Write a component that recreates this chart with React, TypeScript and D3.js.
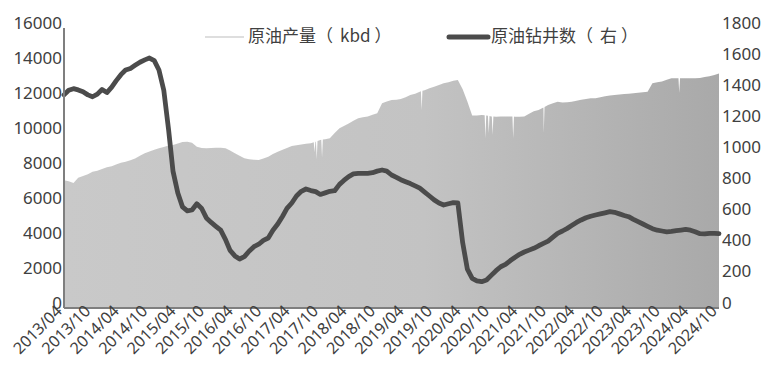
import React from "react";
import * as d3 from "d3";

// Monthly values from 2013/04 to 2024/10
const production: number[] = [
  7300, 7250, 7150, 7450, 7550, 7650, 7790, 7850, 7950, 8050, 8100, 8200,
  8300, 8362, 8450, 8550, 8700, 8838, 8950, 9050, 9124, 9200, 9280, 9314,
  9400, 9480, 9505, 9450, 9220, 9150, 9124, 9150, 9160, 9160, 9124, 9000,
  8850, 8700, 8552, 8500, 8470, 8457, 8550, 8650, 8800, 8933, 9050, 9150,
  9257, 9300, 9350, 9380, 9410, 9500, 9600, 9650, 9695, 10000, 10267, 10400,
  10550, 10700, 10838, 10900, 10950, 11050, 11124, 11695, 11800, 11886, 11900, 11950,
  12050, 12171, 12250, 12362, 12450, 12552, 12650, 12750, 12838, 12900, 12980, 13029,
  12500, 11800, 11000, 11000, 11029, 11000, 10950, 10933, 10950, 10950, 10950, 10933,
  10933, 10950, 11100, 11250, 11314, 11450, 11600, 11695, 11790, 11750, 11760, 11790,
  11850, 11900, 11950, 11981, 11981, 12050, 12100, 12150, 12171, 12200, 12230, 12250,
  12267, 12300, 12330, 12362, 12838, 12900, 12950, 13050, 13124, 13124, 13124, 13124,
  13124, 13124, 13150, 13200, 13250, 13314, 13400,
];

const rigs: number[] = [
  1370, 1400, 1410, 1402, 1390, 1370, 1358, 1375, 1405, 1385, 1420, 1460,
  1500, 1530, 1540, 1560, 1580, 1595, 1607, 1590, 1530, 1400, 1144, 880,
  739, 650, 625, 630, 670, 640, 579, 550, 525, 500, 440, 370,
  335, 315, 330, 365, 394, 410, 435, 450, 500, 540, 590, 640,
  675, 720, 750, 765, 755, 748, 730, 740, 750, 754, 795, 820,
  845, 862, 866, 865, 866, 870, 880, 887, 880, 855, 840, 825,
  812, 800, 785, 770, 745, 720, 695, 675, 662, 670, 677, 675,
  420, 250, 191, 175, 169, 180, 210, 240, 265, 280, 305, 325,
  345, 360, 372, 384, 400, 415, 430, 455, 480, 495, 512, 530,
  550, 566, 580, 590, 598, 605, 612, 619, 615, 605, 595, 587,
  570, 555, 540, 525, 510, 500, 495, 490, 492, 497, 501, 505,
  500, 490, 478, 476, 480, 480, 478,
];

// Short production dips (storms / freezes)
const dipDates: string[] = [
  "2017-08-25", "2017-09-08", "2017-10-12", "2019-07-13",
  "2020-08-25", "2020-09-15", "2020-10-10", "2021-02-19",
  "2021-09-03", "2024-01-20",
];
const dipValues: number[] = [8900, 8500, 8600, 11314, 9700, 10000, 9900, 9700, 10000, 12300];

const tickLabels: string[] = [
  "2013/04", "2013/10", "2014/04", "2014/10", "2015/04", "2015/10",
  "2016/04", "2016/10", "2017/04", "2017/10", "2018/04", "2018/10",
  "2019/04", "2019/10", "2020/04", "2020/10", "2021/04", "2021/10",
  "2022/04", "2022/10", "2023/04", "2023/10", "2024/04", "2024/10",
];
const leftTicks: number[] = [0, 2000, 4000, 6000, 8000, 10000, 12000, 14000, 16000];
const rightTicks: number[] = [0, 200, 400, 600, 800, 1000, 1200, 1400, 1600, 1800];

const legendProdName = "原油产量";
const legendProdUnit = "kbd";
const legendRigsName = "原油钻井数";
const legendRigsUnit = "右";

export default function App() {
  const W = 766, H = 371;
  const x0 = 64, x1 = 719, yB = 308, yT = 28;
  const dates = production.map((_, i) => new Date(2013, 3 + i, 1));
  const x = d3.scaleTime().domain([dates[0], dates[dates.length - 1]]).range([x0, x1]);
  const yL = d3.scaleLinear().domain([0, 16000]).range([yB, yT]);
  const yR = d3.scaleLinear().domain([0, 1800]).range([yB, yT]);

  // piecewise-linear lookup of the monthly series to anchor the dips
  const base = d3.scaleTime().domain(dates).range(production);
  const DAY = 86400000;
  const prodPts: [Date, number][] = dates.map((d, i) => [d, production[i]]);
  dipDates.forEach((s, i) => {
    const d = new Date(s + "T00:00:00");
    const a = new Date(d.getTime() - 5 * DAY);
    const b = new Date(d.getTime() + 5 * DAY);
    prodPts.push([a, base(a)], [d, dipValues[i]], [b, base(b)]);
  });
  prodPts.sort((p, q) => p[0].getTime() - q[0].getTime());

  const area = d3
    .area<[Date, number]>()
    .x((p) => x(p[0]))
    .y0(yB)
    .y1((p) => yL(p[1]));
  const line = d3
    .line<number>()
    .x((_, i) => x(dates[i]))
    .y((v) => yR(v));

  const font = "'Noto Sans', 'Noto Sans CJK SC', sans-serif";
  const cjkFont = "'Noto Sans CJK SC', 'Noto Sans', sans-serif";
  const textColor = "#404040";

  const legendText = (xPos: number, name: string, unit: string) => (
    <text
      x={xPos}
      y={37}
      dominantBaseline="middle"
      fontSize={17}
      fill={textColor}
      fontFamily={cjkFont}
    >
      <tspan>{name}</tspan>
      <tspan dx={0}>（</tspan>
      <tspan dx={7}>{unit}</tspan>
      <tspan dx={4}>）</tspan>
    </text>
  );

  return (
    <svg
      width={W}
      height={H}
      style={{ position: "absolute", left: 0, top: 0, background: "#fff" }}
      fontFamily={font}
    >
      <defs>
        <linearGradient id="ag" gradientUnits="userSpaceOnUse" x1={x0} y1={0} x2={x1} y2={0}>
          <stop offset="0" stopColor="#c9c9c9" />
          <stop offset="0.55" stopColor="#c3c3c3" />
          <stop offset="1" stopColor="#a9a9a9" />
        </linearGradient>
      </defs>

      <path d={area(prodPts) || ""} fill="url(#ag)" />
      <path
        d={line(rigs) || ""}
        fill="none"
        stroke="#4b4b4b"
        strokeWidth={4.8}
        strokeLinejoin="round"
        strokeLinecap="round"
      />

      {/* axes */}
      <line x1={x0} y1={yT} x2={x0} y2={yB} stroke="#7f7f7f" strokeWidth={2} />
      <line x1={x0} y1={yB} x2={x1} y2={yB} stroke="#7f7f7f" strokeWidth={2} />

      {leftTicks.map((t) => (
        <text
          key={"l" + t}
          x={x0 - 2}
          y={yL(t) - 4}
          textAnchor="end"
          dominantBaseline="middle"
          fontSize={17}
          fill={textColor}
        >
          {t}
        </text>
      ))}
      {rightTicks.map((t) => (
        <text
          key={"r" + t}
          x={x1 + 3}
          y={yR(t) - 4}
          textAnchor="start"
          dominantBaseline="middle"
          fontSize={17}
          fill={textColor}
        >
          {t}
        </text>
      ))}
      {tickLabels.map((lab) => {
        const [yy, mm] = lab.split("/").map(Number);
        const tx = x(new Date(yy, mm - 1, 1));
        return (
          <text
            key={lab}
            transform={`translate(${tx - 1},${yB + 4}) rotate(-45)`}
            textAnchor="end"
            fontSize={16}
            fill={textColor}
          >
            {lab}
          </text>
        );
      })}

      {/* legend */}
      <line x1={205} y1={37} x2={244} y2={37} stroke="#bdbdbd" strokeWidth={1} />
      {legendText(248, legendProdName, legendProdUnit)}
      <line
        x1={449}
        y1={37}
        x2={488}
        y2={37}
        stroke="#4b4b4b"
        strokeWidth={5}
        strokeLinecap="round"
      />
      {legendText(491, legendRigsName, legendRigsUnit)}
    </svg>
  );
}
